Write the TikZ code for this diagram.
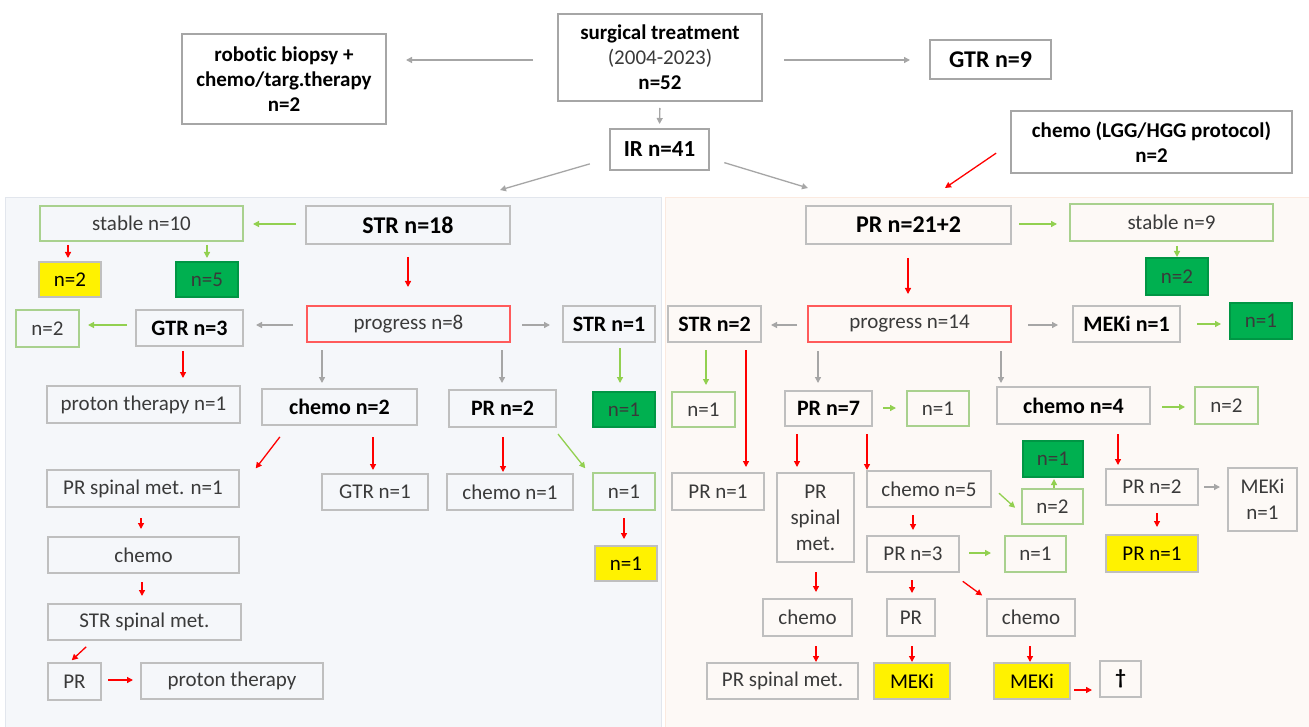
\documentclass[tikz,border=0pt]{standalone}
\usepackage{fontspec}
\setmainfont[Ligatures=NoCommon]{Carlito}
\usetikzlibrary{arrows.meta}
\definecolor{boxgray}{HTML}{BFBFBF}
\definecolor{topgray}{HTML}{A6A6A6}
\definecolor{greenb}{HTML}{A9D18E}
\definecolor{greenf}{HTML}{00B050}
\definecolor{redb}{HTML}{FF5B5B}
\definecolor{arrgray}{HTML}{A6A6A6}
\definecolor{arrgreen}{HTML}{92D050}
\definecolor{arrred}{HTML}{FF0000}
\definecolor{txt}{HTML}{3A3A3A}
\definecolor{lpfill}{HTML}{F5F7FA}
\definecolor{lpdraw}{HTML}{E2E6ED}
\definecolor{rpfill}{HTML}{FDF9F6}
\definecolor{rpdraw}{HTML}{FBEAE0}
\newcommand{\bx}[7]{\node[#1, minimum width={(#5-#3)*1pt}, minimum height={(#6-#4)*1pt}] (#2) at ({(#3+#5)/2},{(#4+#6)/2}) {#7};}
\tikzset{
  base/.style={draw=boxgray, line width=1.2pt, inner sep=0pt, outer sep=0pt, align=center, text=txt, font=\fontsize{21pt}{26pt}\selectfont},
  mb/.style={base, text=black, font=\bfseries\fontsize{22pt}{26pt}\selectfont},
  bb/.style={base, text=black, font=\bfseries\fontsize{24pt}{28pt}\selectfont},
  gb/.style={base, draw=greenb},
  gf/.style={base, draw=greenf!85!black, fill=greenf},
  yf/.style={base, text=black, fill=yellow},
  rb/.style={base, draw=redb},
  topb/.style={base, draw=topgray, text=black, font=\bfseries\fontsize{21pt}{25pt}\selectfont},
  topbig/.style={topb, font=\bfseries\fontsize{24pt}{28pt}\selectfont},
  topir/.style={topb, font=\bfseries\fontsize{23pt}{28pt}\selectfont},
  lpanel/.style={draw=lpdraw, fill=lpfill, line width=1pt, inner sep=0pt, outer sep=0pt},
  rpanel/.style={draw=rpdraw, fill=rpfill, line width=1pt, inner sep=0pt, outer sep=0pt},
  ga/.style={draw=arrgray, line width=1.3pt, -{Triangle[length=6pt,width=6pt]}},
  ra/.style={draw=arrred, line width=1.3pt, -{Triangle[length=6pt,width=6pt]}},
  gra/.style={draw=arrgreen, line width=1.3pt, -{Triangle[length=6pt,width=6pt]}}
}
\begin{document}
\begin{tikzpicture}[x=1pt,y=-1pt]
\useasboundingbox (0,0) rectangle (1309,727);
\fill[white] (0,0) rectangle (1309,727);
% panels
\bx{lpanel}{lp}{5}{198}{661}{727}{}
\bx{rpanel}{rp}{665}{198}{1309}{727}{}
\coordinate (lpin) at (500,190);
\coordinate (rpin) at (808,188);
\coordinate (lggin) at (945,188);
% top
\bx{topb}{rob}{182}{34}{386}{124}{robotic biopsy +\\chemo/targ.therapy\\n=2}
\bx{topb}{surg}{558}{14}{762}{101}{surgical treatment\\{\mdseries\color{txt}(2004-2023)}\\n=52}
\bx{topbig}{gtr9}{930}{40}{1051}{79}{GTR n=9}
\bx{topir}{ir}{610}{129}{709}{170}{IR n=41}
\bx{topb}{lgg}{1011}{111}{1292}{173}{chemo (LGG/HGG protocol)\\n=2}
% left panel
\bx{bb}{str18}{306}{206}{510}{244}{STR n=18}
\bx{gb}{st10}{40}{206}{243}{241}{stable n=10}
\bx{yf}{ly2}{39}{262}{101}{297}{n=2}
\bx{gf}{lg5}{176}{262}{238}{297}{n=5}
\bx{rb}{pr8}{307}{306}{510}{342}{progress n=8}
\bx{mb}{gtr3}{136}{310}{243}{346}{GTR n=3}
\bx{gb}{ln2}{16}{310}{79}{347}{n=2}
\bx{mb}{str1}{563}{306}{655}{342}{STR n=1}
\bx{base}{prot1}{47}{386}{240}{423}{proton therapy n=1}
\bx{mb}{ch2}{262}{389}{417}{425}{chemo n=2}
\bx{mb}{pr2}{449}{390}{556}{427}{PR n=2}
\bx{gf}{lg1}{593}{392}{655}{427}{n=1}
\bx{base}{prsp1}{47}{470}{239}{507}{PR spinal met. n=1}
\bx{base}{gtr1}{322}{474}{428}{510}{GTR n=1}
\bx{base}{ch1}{447}{474}{573}{510}{chemo n=1}
\bx{gb}{ln1}{593}{473}{655}{510}{n=1}
\bx{yf}{ly1}{595}{546}{657}{581}{n=1}
\bx{base}{lch}{48}{537}{239}{573}{chemo}
\bx{base}{strsp}{48}{604}{241}{640}{STR spinal met.}
\bx{base}{lpr}{48}{663}{101}{700}{PR}
\bx{base}{lprot}{141}{663}{323}{699}{proton therapy}
% right panel
\bx{bb}{pr21}{806}{206}{1011}{244}{PR n=21+2}
\bx{gb}{st9}{1070}{204}{1273}{241}{stable n=9}
\bx{gf}{rg2}{1146}{258}{1208}{295}{n=2}
\bx{rb}{pr14}{808}{306}{1011}{342}{progress n=14}
\bx{mb}{str2}{668}{306}{761}{342}{STR n=2}
\bx{mb}{meki1}{1073}{306}{1180}{342}{MEKi n=1}
\bx{gf}{rg1}{1230}{303}{1292}{339}{n=1}
\bx{gb}{rn1a}{672}{392}{735}{427}{n=1}
\bx{mb}{pr7}{785}{391}{872}{426}{PR n=7}
\bx{gb}{rn1b}{907}{391}{969}{426}{n=1}
\bx{mb}{ch4}{997}{387}{1150}{424}{chemo n=4}
\bx{gb}{rn2a}{1195}{387}{1258}{424}{n=2}
\bx{base}{rprn1}{672}{473}{764}{510}{PR n=1}
\bx{base}{prsp}{777}{473}{854}{562}{PR\\spinal\\met.}
\bx{base}{ch5}{867}{471}{991}{507}{chemo n=5}
\bx{gf}{rg1b}{1023}{441}{1083}{477}{n=1}
\bx{gb}{rn2b}{1022}{489}{1083}{524}{n=2}
\bx{base}{rprn2}{1106}{469}{1198}{505}{PR n=2}
\bx{base}{rmeki}{1228}{468}{1297}{531}{MEKi\\n=1}
\bx{base}{prn3}{867}{536}{959}{572}{PR n=3}
\bx{gb}{rn1c}{1005}{536}{1066}{572}{n=1}
\bx{yf}{rypr1}{1106}{535}{1198}{572}{PR n=1}
\bx{base}{rcha}{763}{599}{852}{636}{chemo}
\bx{base}{rpr}{887}{599}{935}{636}{PR}
\bx{base}{rchb}{987}{599}{1075}{636}{chemo}
\bx{base}{rprsp}{707}{663}{858}{699}{PR spinal met.}
\bx{yf}{rmk1}{874}{663}{950}{699}{MEKi}
\bx{yf}{rmk2}{994}{663}{1070}{699}{MEKi}
\bx{base}{dag}{1100}{661}{1141}{697}{\textcolor{black}{\bfseries †}}
% top arrows
\draw[ga,shorten <=25pt,shorten >=20pt] (surg.west|-0,60) -- (rob.east|-0,60);
\draw[ga,shorten <=22pt,shorten >=20pt] (surg.east|-0,60) -- (gtr9.west|-0,60);
\draw[ga,shorten <=7pt,shorten >=5pt] (surg.south) -- (ir.north);
\draw[ga,shorten <=21pt] (ir.west|-0,158) -- (lpin);
\draw[ga,shorten <=16pt] (ir.east|-0,158) -- (rpin);
\draw[ra,shorten <=18pt] (lgg.west|-0,143) -- (lggin);
% left arrows
\draw[gra,shorten <=10pt,shorten >=10pt] (str18.west|-0,224) -- (st10.east|-0,224);
\draw[ra,shorten <=4pt,shorten >=4pt] (st10.south-|68,0) -- (ly2.north-|68,0);
\draw[gra,shorten <=4pt,shorten >=4pt] (st10.south-|207,0) -- (lg5.north-|207,0);
\draw[ra,shorten <=13pt,shorten >=19pt] (str18.south-|408,0) -- (pr8.north-|408,0);
\draw[ga,shorten <=14pt,shorten >=13pt] (pr8.west|-0,325) -- (gtr3.east|-0,325);
\draw[gra,shorten <=9pt,shorten >=9pt] (gtr3.west|-0,325) -- (ln2.east|-0,325);
\draw[ga,shorten <=12pt,shorten >=13pt] (pr8.east|-0,325) -- (str1.west|-0,325);
\draw[ra,shorten <=5pt,shorten >=8pt] (gtr3.south-|183,0) -- (prot1.north-|183,0);
\draw[ga,shorten <=8pt,shorten >=6pt] (pr8.south-|322,0) -- (ch2.north-|322,0);
\draw[ga,shorten <=8pt,shorten >=7pt] (pr8.south-|502,0) -- (pr2.north-|502,0);
\draw[gra,shorten <=6pt,shorten >=9pt] (str1.south-|620,0) -- (lg1.north-|620,0);
\draw[ra,shorten <=15pt,shorten >=2pt] (ch2.south-|289,0) -- (prsp1.north-|254.5,0);
\draw[ra,shorten <=12pt,shorten >=4pt] (ch2.south-|373,0) -- (gtr1.north-|373,0);
\draw[ra,shorten <=10pt,shorten >=2pt] (pr2.south-|503,0) -- (ch1.north-|503,0);
\draw[gra,shorten <=9pt,shorten >=6pt] (pr2.south-|552.4,0) -- (ln1.north-|589,0);
\draw[ra,shorten <=8pt,shorten >=7pt] (ln1.south-|624,0) -- (ly1.north-|624,0);
\draw[ra,shorten <=11pt,shorten >=8pt] (prsp1.south-|141,0) -- (lch.north-|141,0);
\draw[ra,shorten <=9pt,shorten >=8pt] (lch.south-|142,0) -- (strsp.north-|142,0);
\draw[ra,shorten <=10pt,shorten >=4pt] (strsp.south-|93.5,0) -- (lpr.north-|68.8,0);
\draw[ra,shorten <=7pt,shorten >=8pt] (lpr.east|-0,680) -- (lprot.west|-0,680);
% right arrows
\draw[gra,shorten <=8pt,shorten >=13pt] (pr21.east|-0,224) -- (st9.west|-0,224);
\draw[gra,shorten <=5pt,shorten >=1pt] (st9.south-|1177,0) -- (rg2.north-|1177,0);
\draw[ra,shorten <=14pt,shorten >=12pt] (pr21.south-|908,0) -- (pr14.north-|908,0);
\draw[ga,shorten <=11pt,shorten >=10pt] (pr14.west|-0,325) -- (str2.east|-0,325);
\draw[ga,shorten <=17pt,shorten >=15pt] (pr14.east|-0,325) -- (meki1.west|-0,325);
\draw[gra,shorten <=17pt,shorten >=9pt] (meki1.east|-0,324) -- (rg1.west|-0,324);
\draw[gra,shorten <=8pt,shorten >=7pt] (str2.south-|706,0) -- (rn1a.north-|706,0);
\draw[ra,shorten <=8pt,shorten >=6pt] (str2.south-|746,0) -- (rprn1.north-|746,0);
\draw[ga,shorten <=9pt,shorten >=8pt] (pr14.south-|818,0) -- (pr7.north-|818,0);
\draw[ga,shorten <=9pt,shorten >=4pt] (pr14.south-|1001,0) -- (ch4.north-|1001,0);
\draw[gra,shorten <=11pt,shorten >=11pt] (pr7.east|-0,408) -- (rn1b.west|-0,408);
\draw[gra,shorten <=12pt,shorten >=10pt] (ch4.east|-0,407) -- (rn2a.west|-0,407);
\draw[ra,shorten <=8pt,shorten >=6pt] (pr7.south-|797,0) -- (prsp.north-|797,0);
\draw[ra,shorten <=8pt,shorten >=1pt] (pr7.south-|867,0) -- (ch5.north-|867,0);
\draw[ra,shorten <=10pt,shorten >=4pt] (ch4.south-|1118,0) -- (rprn2.north-|1118,0);
\draw[gra,shorten <=10.7pt,shorten >=9.3pt] (ch5.east|-0,486) -- (rn2b.west|-0,514);
\draw[gra,shorten <=1pt,shorten >=2pt] (rn2b.north-|1054,0) -- (rg1b.south-|1054,0);
\draw[ga,shorten <=6pt,shorten >=8pt] (rprn2.east|-0,487) -- (rmeki.west|-0,487);
\draw[ra,shorten <=8pt,shorten >=8pt] (rprn2.south-|1157,0) -- (rypr1.north-|1157,0);
\draw[ra,shorten <=8pt,shorten >=6pt] (ch5.south-|913,0) -- (prn3.north-|913,0);
\draw[gra,shorten <=10pt,shorten >=14pt] (prn3.east|-0,553) -- (rn1c.west|-0,553);
\draw[ra,shorten <=8pt,shorten >=6pt] (prn3.south-|912,0) -- (rpr.north-|912,0);
\draw[ra,shorten <=15.8pt,shorten >=6pt] (prn3.south-|950,0) -- (rchb.north-|987,0);
\draw[ra,shorten <=10pt,shorten >=7pt] (prsp.south-|816,0) -- (rcha.north-|816,0);
\draw[ra,shorten <=10pt,shorten >=1pt] (rcha.south-|816,0) -- (rprsp.north-|816,0);
\draw[ra,shorten <=10pt,shorten >=1pt] (rpr.south-|912,0) -- (rmk1.north-|912,0);
\draw[ra,shorten <=10pt,shorten >=1pt] (rchb.south-|1030,0) -- (rmk2.north-|1030,0);
\draw[ra,shorten <=4pt,shorten >=8pt] (rmk2.east|-0,690) -- (dag.west|-0,690);
\end{tikzpicture}
\end{document}
